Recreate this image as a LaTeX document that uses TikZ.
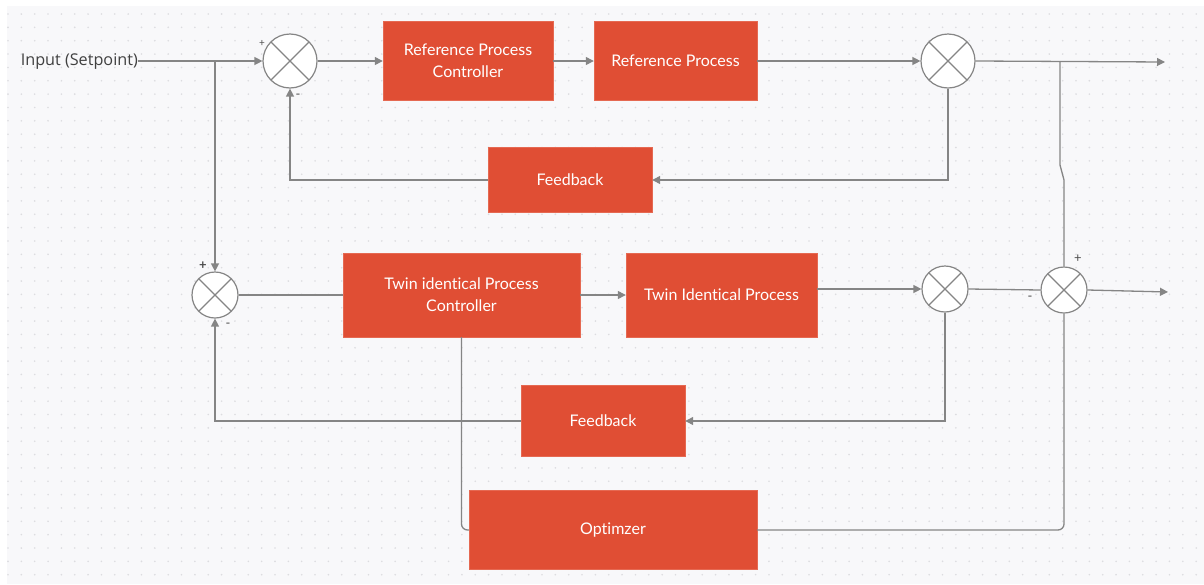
\documentclass[tikz,border=0pt]{standalone}
\usepackage{fontspec}
\setmainfont{Lato}[Ligatures=NoCommon]
\newfontfamily\opensans{Open Sans}
\usetikzlibrary{arrows.meta}

\definecolor{boxred}{HTML}{E04E34}
\definecolor{wiregray}{HTML}{858585}
\definecolor{canvas}{HTML}{F8F8FA}
\definecolor{griddot}{HTML}{DCDCE0}

\tikzset{
  block/.style={draw=boxred!85!white, fill=boxred, text=white, align=center,
    font=\fontsize{16}{22}\selectfont, inner sep=0pt},
  sumjunc/.style={circle, draw=wiregray, fill=white, line width=1.2pt,
    inner sep=0pt, minimum size=#1,
    path picture={\draw[wiregray, line width=1.2pt]
      (path picture bounding box.north west) -- (path picture bounding box.south east)
      (path picture bounding box.south west) -- (path picture bounding box.north east);}},
  sumjunc/.default=46pt,
  conn/.style={draw=wiregray, line width=1.3pt},
  sig/.style={conn, -{Triangle[length=8pt,width=8pt]}},
  signlbl/.style={text=black!70, font=\fontsize{13}{13}\selectfont, inner sep=0pt}
}

\begin{document}
\begin{tikzpicture}[x=1pt, y=-1pt]
	\useasboundingbox (0,0) rectangle (1204,584);
	\fill[white] (0,0) rectangle (1204,584);
	\fill[canvas] (7,6) rectangle (1204,584);
	% dotted grid
	\foreach \gx in {0,...,89}
		\foreach \gy in {0,...,42}
			\fill[griddot] (8+\gx*13.35, 14+\gy*13.35) circle (0.9pt);
	
	% reference loop
	\node[anchor=east, font=\opensans\fontsize{16.2}{19}\selectfont, text=black!75, inner sep=0pt] (inp) at (138,61) {Input (Setpoint)};
	\node[sumjunc=54pt] (s1) at (290,61) {};
	\node[block, minimum width=170pt, minimum height=79pt] (rpc) at (468,61) {Reference Process\\Controller};
	\node[block, minimum width=163pt, minimum height=79pt] (rp) at (675.5,61) {Reference Process};
	\node[sumjunc=54pt] (s2) at (948,61) {};
	\node[block, minimum width=164pt, minimum height=65pt] (fb1) at (570,180) {Feedback};
	
	% twin loop
	\node[sumjunc] (s3) at (215,295) {};
	\node[block, minimum width=237pt, minimum height=84pt] (tipc) at (461.5,295) {Twin identical Process\\Controller};
	\node[block, minimum width=191pt, minimum height=84pt] (tip) at (721.5,295) {Twin Identical Process};
	\node[sumjunc] (s5) at (945,289) {};
	\node[sumjunc] (s4) at (1064,290) {};
	\node[block, minimum width=164pt, minimum height=71pt] (fb2) at (603,421) {Feedback};
	\node[block, minimum width=288pt, minimum height=79pt] (opt) at (613,530) {Optimzer};
	
	% signs
	\node[signlbl, font=\fontsize{10}{10}\selectfont] (p1) at (262,44) {+};
	\node[signlbl] (m1) at (298,96) {-};
	\node[signlbl, font=\bfseries\fontsize{13}{13}\selectfont] (p3) at (203,266) {+};
	\node[signlbl] (m3) at (228,325) {-};
	\node[signlbl] (m4) at (1030,298) {-};
	\node[signlbl] (p4) at (1078,259) {+};
	
	\coordinate (split1) at (215,61);
	\coordinate (split2) at (1060,62);
	\coordinate (out1) at (1165,62);
	\coordinate (out2) at (1168,292);
	
	% connectors
	\draw[sig] (inp.east) -- (s1.west);
	\draw[sig] (s1.east) -- (rpc.west);
	\draw[sig] (rpc.east) -- (rp.west);
	\draw[sig] (rp.east) -- (s2.west);
	\draw[sig] (s2.east) -- (out1);
	\draw[sig] (s2.south) |- (fb1.east);
	\draw[sig] (fb1.west) -| (s1.south);
	\draw[sig] (split1) -- (s3.north);
	\draw[conn] (s3.east) -- (tipc.west);
	\draw[sig] (tipc.east) -- (tip.west);
	\draw[sig] (tip.east |- s5.west) -- (s5.west);
	\draw[conn] (s5.east) -- (s4.west);
	\draw[sig] (s4.east) -- (out2);
	\draw[sig] (s5.south) |- (fb2.east);
	\draw[sig] (fb2.west) -| (s3.south);
	\draw[conn] (split2) -- ++(0,103) -- ++(4,15) -- (s4.north);
	\draw[conn, rounded corners=6pt] (tipc.south) |- (opt.west);
	\draw[conn, rounded corners=6pt] (opt.east) -| (s4.south);
\end{tikzpicture}
\end{document}
